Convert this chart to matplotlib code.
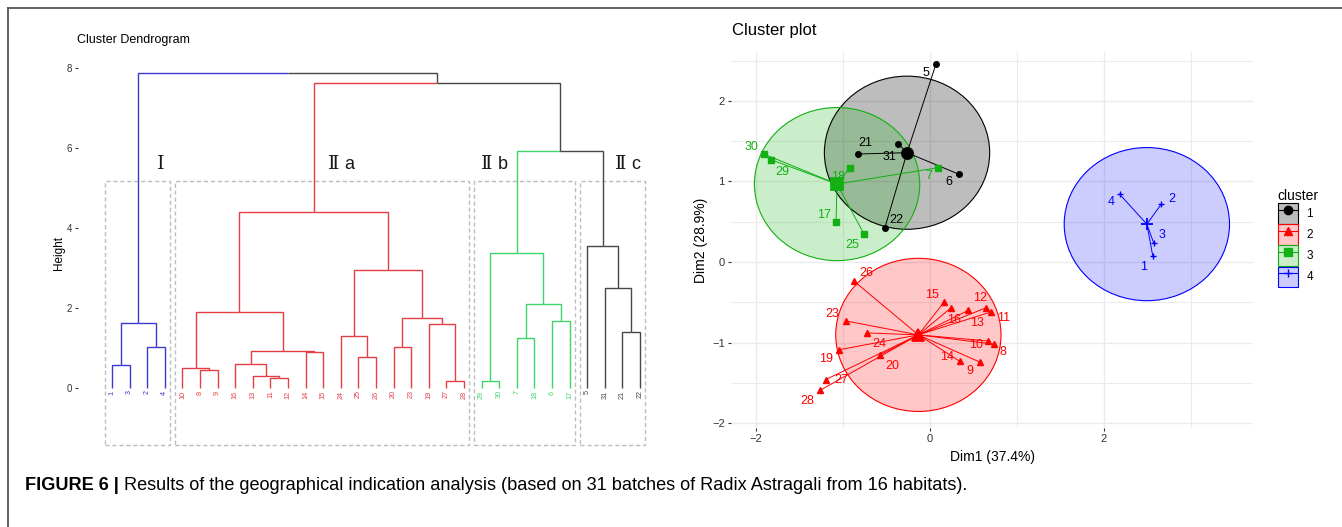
import numpy as np
import matplotlib
matplotlib.use('Agg')
import matplotlib.pyplot as plt
from matplotlib.patches import Ellipse, Rectangle, Patch
from matplotlib.lines import Line2D
from matplotlib.legend_handler import HandlerTuple

plt.rcParams['font.family'] = ['Liberation Sans', 'DejaVu Sans']

# ---- dendrogram data ----
leaf_order = ['1', '3', '2', '4', '10', '8', '9', '16', '13', '11', '12', '14', '15',
              '24', '25', '26', '20', '23', '19', '27', '28', '29', '30', '7', '18',
              '6', '17', '5', '31', '21', '22']
leaf_group = ['I'] * 4 + ['IIa'] * 17 + ['IIb'] * 6 + ['IIc'] * 4
# merge k joins merge_a[k] and merge_b[k] (leaf label or 'm<index>') at merge_h[k]
merge_a = ['1', '2', 'm0', '8', '10', '11', '13', '16', '14', 'm7', 'm4', '25', '24',
           '20', '27', '19', 'm13', 'm12', 'm10', '29', '7', '6', 'm20', 'm19',
           '21', '31', '5', 'm23', 'm18', 'm2']
merge_b = ['3', '4', 'm1', '9', 'm3', '12', 'm5', 'm6', '15', 'm8', 'm9', '26', 'm11',
           '23', '28', 'm14', 'm15', 'm16', 'm17', '30', '18', '17', 'm21', 'm22',
           '22', 'm24', 'm25', 'm26', 'm27', 'm28']
merge_h = [0.57, 1.02, 1.62, 0.44, 0.51, 0.25, 0.30, 0.61, 0.90, 0.92, 1.90, 0.77, 1.30,
           1.02, 0.18, 1.60, 1.75, 2.95, 4.41, 0.17, 1.25, 1.67, 2.10, 3.37,
           1.40, 2.51, 3.56, 5.93, 7.62, 7.87]
group_names = ['I', 'IIa', 'IIb', 'IIc']
group_numeral = ['\u2160', '\u2161', '\u2161', '\u2161']
group_letter = ['', 'a', 'b', 'c']
dend_colors = {'I': '#3A3AD0', 'IIa': '#E43E44', 'IIb': '#3DD46A', 'IIc': '#474747'}
mixed_color = '#474747'

# ---- cluster plot data ----
c1_id = ['5', '21', '31', '6', '22']
c1_x = [0.07, -0.83, -0.37, 0.33, -0.52]
c1_y = [2.46, 1.34, 1.47, 1.09, 0.42]
c2_id = ['26', '15', '16', '12', '13', '11', '23', '24', '10', '8', '14', '9', '19', '20', '27', '28']
c2_x = [-0.87, 0.16, 0.24, 0.64, 0.44, 0.70, -0.97, -0.72, 0.67, 0.74, 0.34, 0.57, -1.05, -0.57, -1.20, -1.26]
c2_y = [-0.24, -0.50, -0.57, -0.57, -0.60, -0.62, -0.73, -0.88, -0.98, -1.02, -1.23, -1.24, -1.09, -1.15, -1.46, -1.59]
c3_id = ['30', '29', '18', '7', '17', '25']
c3_x = [-1.91, -1.83, -0.92, 0.09, -1.08, -0.76]
c3_y = [1.34, 1.27, 1.17, 1.17, 0.50, 0.35]
c4_id = ['4', '2', '3', '1']
c4_x = [2.18, 2.66, 2.57, 2.56]
c4_y = [0.84, 0.72, 0.24, 0.08]
ellipse_r = 0.95

clusters = [
    ('1', c1_id, c1_x, c1_y, '#000000', 'o', 0.26),
    ('2', c2_id, c2_x, c2_y, '#FF0000', '^', 0.22),
    ('3', c3_id, c3_x, c3_y, '#12B012', 's', 0.22),
    ('4', c4_id, c4_x, c4_y, '#0000FF', '+', 0.2),
]

# label offsets in pixels (right, down) as ggrepel placed them
lab_off = {
    '5': (-10, 9), '21': (8, -11), '31': (-8, 13), '6': (-10, 8), '22': (12, -8),
    '30': (-12, -7), '29': (12, 12), '18': (-12, 9), '7': (-9, 8), '17': (-12, -7), '25': (-12, 11),
    '26': (12, -8), '15': (-12, -7), '16': (3, 12), '12': (-6, -10), '13': (9, 13), '11': (13, 6),
    '23': (-13, -7), '24': (12, 11), '10': (-12, 4), '8': (9, 8), '14': (-13, -4), '9': (-10, 9),
    '19': (-13, 9), '20': (12, 11), '27': (16, 0), '28': (-13, 11),
    '4': (-8, 8), '2': (10, -5), '3': (8, -8), '1': (-9, 11),
}

W, H = 1342, 527
fig = plt.figure(figsize=(W / 100, H / 100), dpi=100)

# ================= dendrogram =================
axd = fig.add_axes([78 / W, 1 - 450 / H, 582 / W, 395 / H])
node_x, node_h, node_g = {}, {}, {}
for i, (lab, g) in enumerate(zip(leaf_order, leaf_group)):
    node_x[lab], node_h[lab], node_g[lab] = i, 0.0, g
parent = {}
for k, (a, b, h) in enumerate(zip(merge_a, merge_b, merge_h)):
    m = 'm%d' % k
    node_x[m] = (node_x[a] + node_x[b]) / 2
    node_h[m] = h
    node_g[m] = node_g[a] if node_g[a] == node_g[b] else None
    parent[a] = m
    parent[b] = m
for n, p in parent.items():
    c = dend_colors.get(node_g[n], mixed_color)
    axd.plot([node_x[n], node_x[n], node_x[p]], [node_h[n], node_h[p], node_h[p]],
             color=c, lw=1.0, solid_capstyle='butt', solid_joinstyle='miter')

for i, (lab, g) in enumerate(zip(leaf_order, leaf_group)):
    axd.text(i, -0.06, lab, rotation=90, ha='center', va='top', fontsize=5.2,
             color=dend_colors[g])

title_pos = {'I': (2.77, 5.6), 'IIa': (12.6, 5.6), 'IIb': (21.3, 5.6), 'IIc': (28.9, 5.6)}
for g, num, let in zip(group_names, group_numeral, group_letter):
    idx = [i for i, gg in enumerate(leaf_group) if gg == g]
    x0, x1 = min(idx) - 0.41, max(idx) + 0.31
    axd.add_patch(Rectangle((x0, -1.43), x1 - x0, 6.61, fill=False, ec='#BDBDBD',
                            ls=(0, (3, 2)), lw=1.0))
    tx, ty = title_pos[g]
    t = axd.text(tx, ty, num, ha='center', va='center', fontsize=14,
                 family=['DejaVu Serif'], color='#1A1A1A')
    if let:
        axd.annotate(let, xy=(1, 0), xycoords=t, xytext=(3.5, 0), textcoords='offset points',
                     ha='left', va='bottom', fontsize=13, color='#1A1A1A')

axd.set_xlim((78 - 112) / 17.6, (660 - 112) / 17.6)
axd.set_ylim((388 - 450) / 40, (388 - 55) / 40)
axd.set_yticks([0, 2, 4, 6, 8])
axd.set_xticks([])
axd.tick_params(axis='y', length=2.5, width=0.8, color='#333333', labelsize=7, pad=2,
                labelcolor='#333333')
for s in axd.spines.values():
    s.set_visible(False)
axd.set_ylabel('Height', fontsize=8.5, labelpad=1)
fig.text(77 / W, 1 - 40 / H, 'Cluster Dendrogram', fontsize=9, va='center', ha='left')

# ================= cluster plot =================
axc = fig.add_axes([731 / W, 1 - 428 / H, 522 / W, 376 / H])
axc.set_xlim((731 - 930) / 87, (1253 - 930) / 87)
axc.set_ylim((262 - 428) / 80.6, (262 - 52) / 80.6)
axc.set_xticks([-2, 0, 2])
axc.set_xticks([-1, 1, 3], minor=True)
axc.set_yticks([-2, -1, 0, 1, 2])
axc.set_yticks([-1.5, -0.5, 0.5, 1.5, 2.5], minor=True)
axc.grid(True, which='major', color='#EBEBEB', lw=1.0)
axc.grid(True, which='minor', color='#EBEBEB', lw=0.8)
axc.set_axisbelow(True)
axc.tick_params(which='major', length=2.5, width=0.8, color='#333333', labelsize=8,
                labelcolor='#333333', pad=2)
axc.tick_params(which='minor', length=0)
for s in axc.spines.values():
    s.set_visible(False)

for name, ids, xs, ys, col, mk, alp in clusters:
    xs = np.array(xs)
    ys = np.array(ys)
    cx, cy = xs.mean(), ys.mean()
    axc.add_patch(Ellipse((cx, cy), 2 * ellipse_r, 2 * ellipse_r, fc=col, alpha=alp,
                          ec='none', zorder=1))
    axc.add_patch(Ellipse((cx, cy), 2 * ellipse_r, 2 * ellipse_r, fc='none', ec=col,
                          lw=0.8, zorder=1.1))
    for x, y in zip(xs, ys):
        axc.plot([cx, x], [cy, y], color=col, lw=0.7, zorder=2)
    axc.plot(xs, ys, ls='none', marker=mk, color=col, ms=4, mew=1.0, zorder=3)
    axc.plot([cx], [cy], ls='none', marker=mk, color=col, ms=8, mew=1.3, zorder=3)
    for lab, x, y in zip(ids, xs, ys):
        dx, dy = lab_off[lab]
        axc.annotate(lab, (x, y), xytext=(dx * 0.72, -dy * 0.72), textcoords='offset points',
                     ha='center', va='center', fontsize=9, color=col, zorder=4)

axc.set_xlabel('Dim1 (37.4%)', fontsize=10, labelpad=4)
axc.set_ylabel('Dim2 (28.9%)', fontsize=10, labelpad=3)
fig.text(732 / W, 1 - 31 / H, 'Cluster plot', fontsize=12, va='center', ha='left')

handles = []
for name, ids, xs, ys, col, mk, alp in clusters:
    handles.append((Patch(fc=matplotlib.colors.to_rgba(col, alp), ec=col, lw=0.8),
                    Line2D([], [], color=col, marker=mk, ms=6, lw=0.8)))
fig.legend(handles, [c[0] for c in clusters], title='cluster', loc='upper left',
           bbox_to_anchor=(1274 / W, 1 - 185 / H), frameon=False, fontsize=8.5,
           title_fontsize=10, handlelength=1.75, handleheight=2.3, labelspacing=0.05,
           handletextpad=0.7, alignment='left', borderaxespad=0, borderpad=0.3,
           handler_map={tuple: HandlerTuple(ndivide=1, pad=0)})

# ================= frame + caption =================
fig.add_artist(Line2D([8 / W, 1], [1 - 8 / H, 1 - 8 / H], color='#555555', lw=1.3))
fig.add_artist(Line2D([8 / W, 8 / W], [0, 1 - 8 / H], color='#555555', lw=1.3))
cap = fig.text(25 / W, 1 - 485 / H, 'FIGURE 6 | ', fontsize=13.1, fontweight='bold',
               va='center', ha='left')
fig.add_artist(plt.Annotation(
    'Results of the geographical indication analysis (based on 31 batches of '
    'Radix Astragali from 16 habitats).', xy=(1, 0.5), xycoords=cap,
    va='center', ha='left', fontsize=13.1, annotation_clip=False))

fig.savefig('out.png', dpi=100)
